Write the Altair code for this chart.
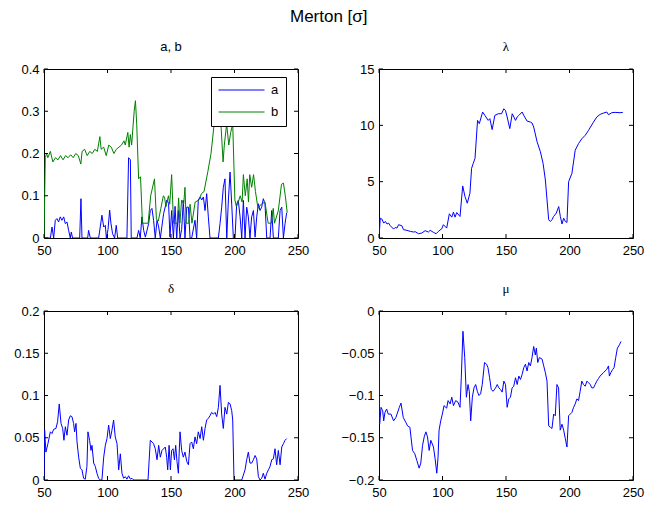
import altair as alt
import pandas as pd

# ---------------- data ----------------
x_ticks = [50, 100, 150, 200, 250]
ab_ticks = [0, 0.1, 0.2, 0.3, 0.4]
lam_ticks = [0, 5, 10, 15]
del_ticks = [0, 0.05, 0.1, 0.15, 0.2]
mu_ticks = [-0.2, -0.15, -0.1, -0.05, 0]

a_x = [50, 50.5, 55.0, 56.3, 57.6, 58.9, 60.2, 61.5, 62.8, 64.1, 65.5, 66.8, 68.1, 69.4, 70.7, 71.5, 72.5,
       78.1, 79.1, 79.9, 84.4, 85.1, 86.5, 93.0, 94.3, 95.6, 97.0, 98.3, 99.1, 100.4, 101.7, 102.7, 104.0,
       105.6, 106.9, 108.0, 115.3, 116.6, 118.0, 118.7, 123.2, 124.5, 125.8, 127.1, 128.5, 129.8, 132.4,
       133.7, 135.0, 136.3, 137.6, 139.0, 140.3, 141.6, 144.2, 146.8, 148.1, 149.2, 150.5, 151.9, 153.2,
       154.5, 155.8, 157.1, 158.4, 159.7, 161.0, 162.4, 163.7, 165.0, 166.3, 168.9, 170.2, 171.5, 172.9,
       174.2, 175.5, 176.8, 178.1, 179.4, 180.7, 187.3, 188.6, 189.9, 191.2, 192.5, 193.9, 195.2, 196.5,
       197.8, 199.1, 200.4, 201.7, 203.0, 204.4, 205.7, 207.0, 208.3, 209.6, 210.9, 212.2, 213.5, 214.9,
       216.2, 217.5, 218.8, 220.1, 221.4, 222.7, 224.0, 225.4, 228.0, 229.3, 230.6, 234.5, 235.9, 237.2,
       238.5, 239.8, 241.1]
a_v = [0, 0, 0, 0.026, 0, 0.042, 0.046, 0.038, 0.05, 0.042, 0.05, 0.034, 0.038, 0.018, 0, 0.014, 0,
       0, 0.093, 0, 0, 0.018, 0, 0, 0.026, 0.054, 0.026, 0.03, 0, 0.02, 0.066, 0.035, 0.01,
       0, 0.03, 0, 0, 0.19, 0.185, 0, 0, 0.018, 0, 0.05, 0.018, 0.002, 0.034,
       0.065, 0.07, 0.042, 0, 0.042, 0.026, 0, 0.058, 0.09, 0.082, 0.002, 0.065, 0, 0.075,
       0, 0.065, 0, 0.02, 0.089, 0, 0.073, 0.073, 0, 0, 0.042, 0, 0.09, 0.097,
       0.09, 0.097, 0.065, 0.105, 0.05, 0, 0, 0.034, 0.073, 0.12, 0.14, 0, 0.09, 0.156,
       0.08, 0, 0, 0.08, 0.089, 0.05, 0, 0.089, 0, 0.073, 0.05, 0, 0.05, 0.065,
       0.002, 0.05, 0.081, 0.065, 0.073, 0.093, 0.081, 0, 0, 0.065, 0, 0, 0.065, 0.073,
       0, 0.034, 0.06]

b_x = [50, 51, 52, 53, 55, 57, 59, 61, 63, 65, 67, 69, 71, 73, 75, 77, 79, 80, 82, 84, 86, 88, 90, 92,
       94, 95, 97, 99, 101, 103, 105, 107, 109, 111, 113, 114, 116, 117, 118, 119, 121, 122, 123, 124.5,
       126, 127.5, 132, 134, 137, 138.5, 140, 142, 144, 145, 146, 148, 149, 150.5, 152, 155, 156, 157,
       158.4, 160, 161, 162, 164, 165, 166.5, 169, 172, 174, 176, 179, 181.5, 184, 186, 188, 189.5, 191,
       192, 193.8, 195.5, 197, 198.6, 200.3, 201.5, 203, 204.5, 206, 207, 208.5, 210, 211, 212, 213.5,
       215, 216.5, 218.5, 221, 224, 226.5, 229, 230.5, 231.5, 234.5, 237, 238.5, 240, 241.5]
b_v = [0, 0.19, 0.2, 0.19, 0.205, 0.18, 0.19, 0.185, 0.195, 0.185, 0.195, 0.19, 0.197, 0.19, 0.2, 0.195,
       0.175, 0.205, 0.21, 0.195, 0.205, 0.2, 0.21, 0.205, 0.24, 0.21, 0.215, 0.195, 0.22, 0.215, 0.2,
       0.21, 0.215, 0.22, 0.23, 0.22, 0.25, 0.215, 0.245, 0.22, 0.3, 0.325, 0.27, 0.14, 0.145, 0.035,
       0.035, 0.1, 0.14, 0.045, 0.04, 0.07, 0.1, 0.095, 0.074, 0.1, 0.08, 0.15, 0.035, 0.035, 0.095,
       0.035, 0.09, 0.08, 0.12, 0.035, 0.035, 0.08, 0.035, 0.085, 0.09, 0.105, 0.11, 0.157, 0.2, 0.27,
       0.3, 0.32, 0.26, 0.18, 0.22, 0.27, 0.22, 0.25, 0.27, 0.09, 0.074, 0.085, 0.1, 0.085, 0.15, 0.1,
       0.14, 0.085, 0.15, 0.12, 0.15, 0.11, 0.07, 0.08, 0.085, 0.035, 0.035, 0.07, 0.035, 0.065, 0.127,
       0.13, 0.1, 0.06]

lam_x = [50, 51.0, 52.3, 53.7, 55.0, 56.3, 57.6, 58.9, 61.5, 62.8, 64.1, 65.4, 68.0, 69.3, 71.9, 74.6,
         77.2, 78.5, 81.1, 83.7, 86.3, 88.9, 90.3, 92.9, 95.0, 96.8, 99.4, 100.7, 103.3, 105.4, 107.3,
         108.6, 109.9, 111.2, 113.8, 115.9, 117.7, 119.5, 121.6, 122.9, 124.2, 125.6, 127.6, 129.0, 131.6,
         133.4, 136.0, 137.3, 139.1, 141.2, 143.9, 146.5, 148.3, 149.6, 150.9, 153.0, 154.9, 156.2, 157.5,
         158.8, 160.1, 162.7, 164.0, 166.6, 169.2, 170.5, 171.8, 174.5, 177.1, 179.2, 181.0, 182.3, 183.6,
         184.9, 186.2, 187.5, 189.6, 191.5, 192.8, 194.1, 195.4, 196.7, 198.0, 199.3, 201.9, 204.5, 207.1,
         209.8, 212.4, 215.0, 218.9, 221.5, 224.1, 226.7, 229.4, 230.7, 233.3, 235.9, 239.8, 242.0]
lam_v = [0, 1.76, 1.68, 1.32, 1.47, 1.24, 1.32, 1.09, 0.79, 0.94, 0.88, 1.18, 1.09, 0.74, 0.68, 0.59,
         0.53, 0.56, 0.38, 0.44, 0.65, 0.53, 0.68, 0.5, 0.38, 0.59, 0.82, 1.18, 0.88, 2.15, 1.85,
         2.29, 1.85, 2.26, 1.91, 4.62, 3.68, 3.09, 3.97, 6.18, 6.62, 7.06, 10.44, 10.15, 11.18,
         10.88, 10.44, 10.59, 9.62, 10.88, 11.03, 11.03, 11.47, 11.32, 10.74, 9.71, 11.03, 10.74, 10.44,
         10.74, 10.88, 11.18, 10.88, 10.38, 10.29, 10.21, 9.85, 8.53, 7.65, 6.62, 5.15, 3.38, 1.62,
         1.47, 1.62, 1.91, 2.21, 2.79, 1.91, 1.24, 1.76, 1.47, 1.38, 5.0, 5.74, 7.79, 8.38,
         8.82, 9.12, 9.56, 10.29, 10.74, 10.97, 11.09, 11.18, 10.94, 11.12, 11.15, 11.12, 11.15]

del_x = [50, 50.5, 51.5, 53.1, 55.0, 56.3, 57.6, 59.4, 60.7, 62.0, 63.4, 64.7, 65.7, 66.8, 68.1, 69.4,
         70.7, 72.0, 73.3, 74.1, 75.2, 76.0, 77.3, 78.6, 79.9, 81.2, 82.5, 83.8, 84.6, 85.9, 87.0, 87.8,
         89.1, 90.4, 91.7, 93.0, 94.3, 95.6, 97.0, 98.3, 99.6, 100.9, 102.2, 103.5, 104.8, 106.1, 107.5,
         108.8, 110.1, 111.4, 112.7, 114.0, 115.3, 116.6, 118.0, 119.3, 120.6, 131.9, 133.7, 135.0, 136.3,
         137.6, 139.0, 140.3, 141.6, 142.9, 145.5, 146.6, 147.4, 148.5, 149.5, 150.5, 151.6, 152.7, 153.7,
         154.7, 155.8, 157.1, 158.4, 159.7, 161.0, 162.4, 163.7, 165.0, 166.3, 167.6, 168.9, 170.2, 171.5,
         172.9, 174.2, 175.5, 176.8, 178.1, 179.4, 180.7, 182.0, 183.4, 184.7, 186.0, 187.3, 188.6, 189.9,
         191.2, 192.5, 193.9, 195.2, 196.5, 197.8, 198.6, 199.6, 205.7, 208.3, 209.6, 210.9, 212.2, 213.5,
         214.9, 216.2, 217.5, 218.8, 220.1, 221.4, 222.7, 224.0, 225.4, 226.7, 228.0, 229.3, 230.6, 231.9,
         233.2, 234.5, 235.9, 237.2, 238.5, 239.8, 241.1]
del_v = [0, 0.059, 0.033, 0.043, 0.057, 0.055, 0.06, 0.061, 0.069, 0.09, 0.067, 0.061, 0.047, 0.063,
         0.053, 0.071, 0.076, 0.075, 0.067, 0.057, 0.067, 0.045, 0.027, 0.014, 0.012, 0.002, 0.001, 0.016,
         0.057, 0.047, 0.035, 0.041, 0.02, 0.016, 0.008, 0.002, 0, 0, 0.027, 0.041, 0.049, 0.065, 0.049,
         0.059, 0.071, 0.051, 0.043, 0.012, 0.031, 0.008, 0.002, 0.004, 0.001, 0.005, 0.001, 0.002, 0, 0,
         0.047, 0.045, 0.043, 0.037, 0.024, 0.041, 0.027, 0.035, 0.039, 0.027, 0.012, 0.041, 0.012, 0.035,
         0.037, 0.024, 0.041, 0.022, 0.008, 0.057, 0.035, 0.027, 0.033, 0.022, 0.018, 0.043, 0.045, 0.037,
         0.051, 0.043, 0.057, 0.049, 0.063, 0.047, 0.061, 0.071, 0.073, 0.076, 0.08, 0.078, 0.08, 0.075,
         0.086, 0.112, 0.078, 0.061, 0.086, 0.078, 0.092, 0.09, 0.082, 0.071, 0, 0, 0.012, 0.024, 0.033,
         0.02, 0.02, 0.024, 0.029, 0.025, 0.004, 0, 0.002, 0.008, 0.001, 0.008, 0.012, 0.016, 0.024, 0.025,
         0.037, 0.018, 0.035, 0.018, 0.039, 0.043, 0.047, 0.049]

mu_x = [50, 50.5, 51.6, 52.9, 53.7, 54.7, 56.0, 57.3, 59.4, 61.5, 63.3, 66.0, 67.3, 69.1, 71.2, 72.5,
        74.3, 76.4, 78.2, 79.8, 81.6, 82.9, 84.3, 85.6, 86.9, 88.2, 89.5, 90.8, 92.9, 94.2, 95.5, 96.5,
        97.3, 98.6, 99.9, 101.2, 103.3, 104.4, 106.0, 107.3, 108.6, 110.4, 112.2, 113.8, 114.8, 116.1,
        117.5, 118.8, 120.1, 121.1, 122.2, 123.5, 124.8, 126.1, 127.4, 128.7, 130.0, 131.3, 133.1, 134.7,
        135.8, 137.1, 138.4, 139.9, 141.8, 143.1, 144.4, 145.7, 147.0, 148.3, 149.6, 150.9, 152.2, 153.5,
        154.8, 156.1, 157.5, 158.8, 160.1, 161.4, 162.7, 164.0, 165.3, 166.6, 167.9, 169.2, 170.5, 171.8,
        173.1, 173.9, 175.0, 176.3, 178.4, 179.7, 181.0, 182.3, 183.6, 184.9, 186.2, 187.5, 188.8, 190.1,
        191.4, 192.7, 194.1, 195.4, 196.7, 198.0, 199.3, 200.6, 201.9, 203.2, 204.5, 205.8, 207.1, 208.4,
        209.7, 211.0, 212.4, 213.7, 215.0, 216.3, 217.6, 218.9, 220.2, 221.5, 222.8, 224.1, 226.7, 228.0,
        229.4, 230.7, 231.4, 232.5, 234.1, 235.1, 236.4, 237.7, 239.3, 240.6]
mu_v = [0, -0.134, -0.114, -0.118, -0.13, -0.12, -0.116, -0.122, -0.122, -0.13, -0.126, -0.114, -0.109,
        -0.126, -0.132, -0.136, -0.1375, -0.165, -0.169, -0.177, -0.186, -0.18, -0.159, -0.149, -0.143,
        -0.149, -0.165, -0.153, -0.161, -0.175, -0.192, -0.173, -0.141, -0.13, -0.122, -0.112, -0.115,
        -0.106, -0.11, -0.102, -0.112, -0.106, -0.108, -0.114, -0.079, -0.024, -0.055, -0.102, -0.087,
        -0.095, -0.13, -0.102, -0.091, -0.087, -0.095, -0.1, -0.098, -0.087, -0.061, -0.063, -0.067,
        -0.079, -0.093, -0.095, -0.091, -0.087, -0.091, -0.093, -0.096, -0.083, -0.087, -0.114, -0.104,
        -0.102, -0.091, -0.089, -0.079, -0.087, -0.077, -0.081, -0.075, -0.067, -0.063, -0.071, -0.061,
        -0.065, -0.055, -0.042, -0.052, -0.044, -0.061, -0.055, -0.057, -0.065, -0.073, -0.083, -0.136,
        -0.1375, -0.139, -0.122, -0.124, -0.087, -0.091, -0.141, -0.134, -0.141, -0.151, -0.161, -0.124,
        -0.122, -0.12, -0.114, -0.11, -0.104, -0.106, -0.095, -0.083, -0.087, -0.089, -0.083, -0.085,
        -0.087, -0.091, -0.091, -0.087, -0.083, -0.08, -0.077, -0.073, -0.071, -0.069, -0.065, -0.077,
        -0.073, -0.069, -0.067, -0.055, -0.044, -0.04, -0.036]

# ---------------- styling ----------------
W, H = 254, 169
SANS = "Liberation Sans"
SERIF = "Liberation Serif"
TL = 4  # inner tick length
BLUE = "#0000ff"
GREEN = "#008000"


def axis_x():
    return alt.Axis(values=x_ticks, title=None, ticks=False, tickSize=0, domain=False, grid=False,
                    labelFont=SANS, labelFontSize=13, labelColor="black", labelPadding=6,
                    labelFlush=False, labelOverlap=False, format="d")


def axis_y(vals, fmt):
    return alt.Axis(values=vals, title=None, ticks=False, tickSize=0, domain=False, grid=False,
                    labelFont=SANS, labelFontSize=13, labelColor="black", labelPadding=5,
                    labelFlush=False, labelOverlap=False, format=fmt)


def tick_layers(yvals, fmt, xscale, yscale):
    xt = pd.DataFrame({"t": x_ticks})
    yt = pd.DataFrame({"t": yvals})
    xs = alt.X("t:Q", scale=xscale, axis=axis_x())
    ys = alt.Y("t:Q", scale=yscale, axis=axis_y(yvals, fmt))
    bottom = alt.Chart(xt).mark_rule(color="black", strokeWidth=1).encode(
        x=xs, y=alt.value(H), y2=alt.value(H - TL))
    top = alt.Chart(xt).mark_rule(color="black", strokeWidth=1).encode(
        x=xs, y=alt.value(0), y2=alt.value(TL))
    left = alt.Chart(yt).mark_rule(color="black", strokeWidth=1).encode(
        y=ys, x=alt.value(0), x2=alt.value(TL))
    right = alt.Chart(yt).mark_rule(color="black", strokeWidth=1).encode(
        y=ys, x=alt.value(W), x2=alt.value(W - TL))
    return [bottom, top, left, right]


def sub_title(text, font):
    return alt.TitleParams(text=text, font=font, fontSize=13, fontWeight="normal", color="black",
                           offset=9, anchor="middle")


xscale = alt.Scale(domain=[50, 250], nice=False, zero=False)

# panel 1: a, b
ab_df = pd.concat([
    pd.DataFrame({"x": a_x, "v": a_v, "s": "a"}),
    pd.DataFrame({"x": b_x, "v": b_v, "s": "b"}),
])
ab_scale = alt.Scale(domain=[0, 0.4], nice=False, zero=False)
ab_line = alt.Chart(ab_df).mark_line(strokeWidth=1, clip=True, interpolate="linear").encode(
    x=alt.X("x:Q", scale=xscale, axis=axis_x()),
    y=alt.Y("v:Q", scale=ab_scale, axis=axis_y(ab_ticks, "~g")),
    color=alt.Color("s:N", scale=alt.Scale(domain=["a", "b"], range=[BLUE, GREEN]),
                    legend=alt.Legend(orient="none", legendX=167, legendY=8, title=None,
                                      symbolType="stroke",
                                      symbolSize=2116, symbolStrokeWidth=1, clipHeight=12,
                                      rowPadding=9, strokeColor="black", fillColor="white",
                                      padding=7, labelFont=SANS, labelFontSize=13,
                                      labelColor="black", labelOffset=6)),
    order=alt.Order("x:Q"),
)
p1 = alt.layer(ab_line, *tick_layers(ab_ticks, "~g", xscale, ab_scale)).properties(
    width=W, height=H, title=sub_title("a, b", SANS))

# panel 2: lambda
lam_scale = alt.Scale(domain=[0, 15], nice=False, zero=False)
lam_line = alt.Chart(pd.DataFrame({"x": lam_x, "v": lam_v})).mark_line(
    strokeWidth=1, color=BLUE, clip=True).encode(
    x=alt.X("x:Q", scale=xscale, axis=axis_x()),
    y=alt.Y("v:Q", scale=lam_scale, axis=axis_y(lam_ticks, "d")),
    order=alt.Order("x:Q"),
)
p2 = alt.layer(lam_line, *tick_layers(lam_ticks, "d", xscale, lam_scale)).properties(
    width=W, height=H, title=sub_title("λ", SERIF))

# panel 3: delta
del_scale = alt.Scale(domain=[0, 0.2], nice=False, zero=False)
del_line = alt.Chart(pd.DataFrame({"x": del_x, "v": del_v})).mark_line(
    strokeWidth=1, color=BLUE, clip=True).encode(
    x=alt.X("x:Q", scale=xscale, axis=axis_x()),
    y=alt.Y("v:Q", scale=del_scale, axis=axis_y(del_ticks, "~g")),
    order=alt.Order("x:Q"),
)
p3 = alt.layer(del_line, *tick_layers(del_ticks, "~g", xscale, del_scale)).properties(
    width=W, height=H, title=sub_title("δ", SERIF))

# panel 4: mu
mu_scale = alt.Scale(domain=[-0.2, 0], nice=False, zero=False)
mu_line = alt.Chart(pd.DataFrame({"x": mu_x, "v": mu_v})).mark_line(
    strokeWidth=1, color=BLUE, clip=True).encode(
    x=alt.X("x:Q", scale=xscale, axis=axis_x()),
    y=alt.Y("v:Q", scale=mu_scale, axis=axis_y(mu_ticks, "~g")),
    order=alt.Order("x:Q"),
)
p4 = alt.layer(mu_line, *tick_layers(mu_ticks, "~g", xscale, mu_scale)).properties(
    width=W, height=H, title=sub_title("μ", SERIF))

chart = alt.concat(p1, p2, p3, p4, columns=2,
                   spacing=alt.RowColnumber(row=24, column=30)).properties(
    title=alt.TitleParams(text="Merton [σ]", font=SANS, fontSize=17, fontWeight="normal",
                          color="black", anchor="middle", offset=15),
    padding={"left": 13, "top": 7, "right": 0, "bottom": 0},
    background="white",
).configure_view(stroke="black", strokeWidth=1)

chart.save("out.html", embed_options={"renderer": "svg", "actions": False})
